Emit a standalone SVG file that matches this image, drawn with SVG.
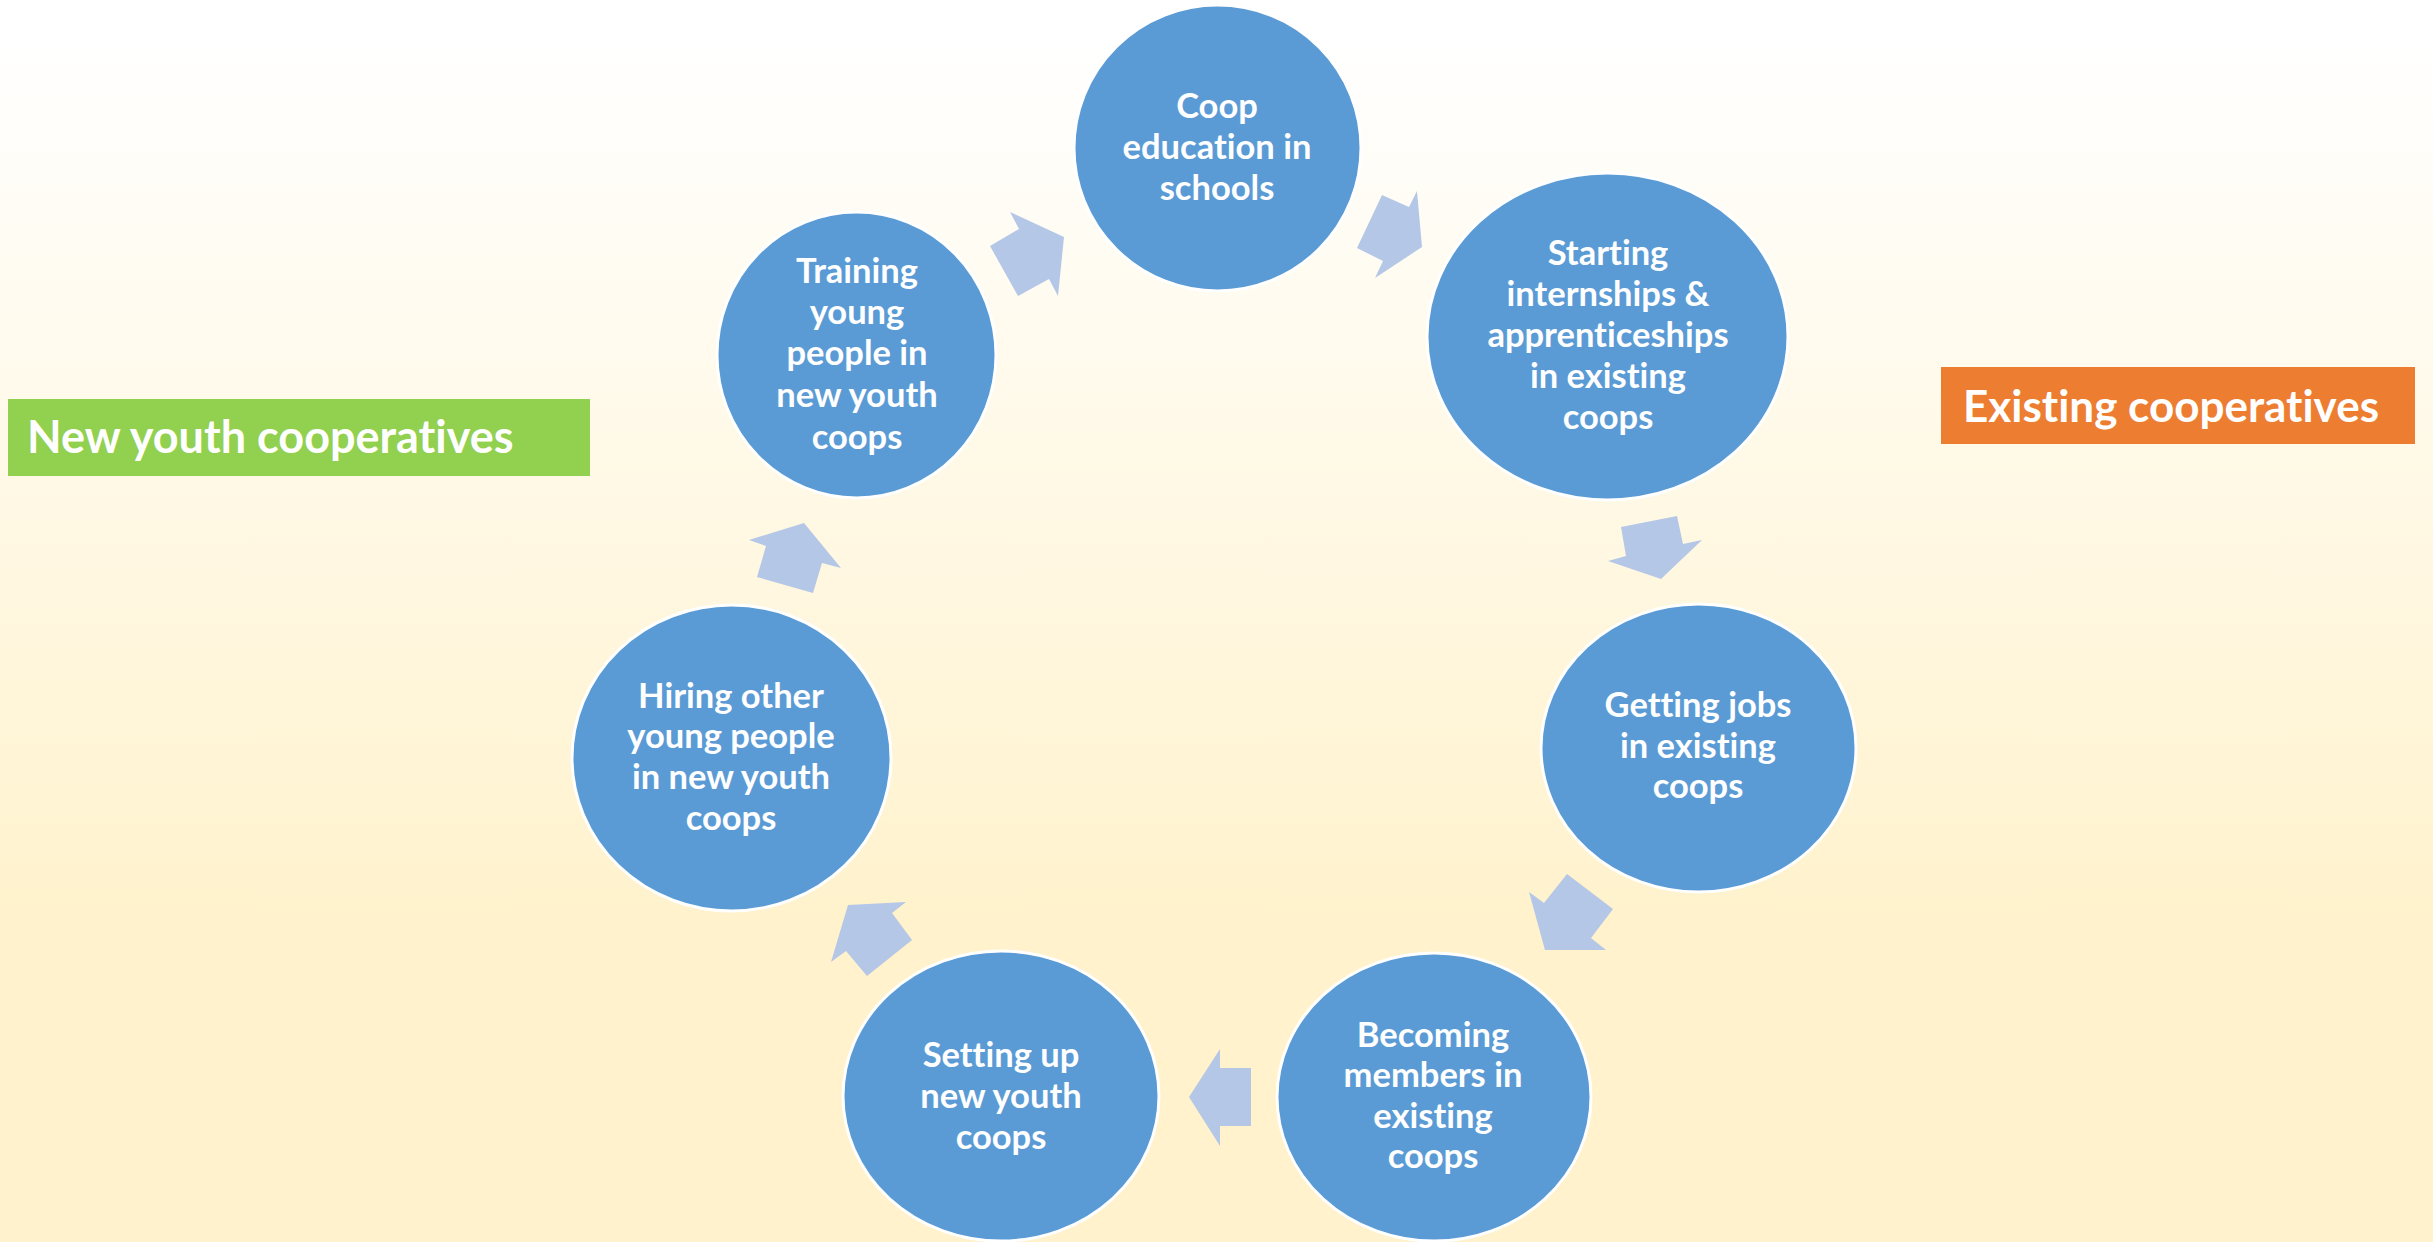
<svg xmlns="http://www.w3.org/2000/svg" width="2433" height="1242" viewBox="0 0 2433 1242">
<defs>
<linearGradient id="bg" x1="0" y1="0" x2="0" y2="1">
<stop offset="0.03" stop-color="#FFFFFF"/>
<stop offset="0.75" stop-color="#FFF2CC"/>
<stop offset="1" stop-color="#FFF2CC"/>
</linearGradient>
<style>
.node ellipse{fill:#5B9BD5;stroke:#FFFFFF;stroke-width:3}
.node text{fill:#FFFFFF;font-family:Lato,"Liberation Sans",sans-serif;font-weight:bold;font-size:34.5px;text-anchor:middle;font-variant-ligatures:none}
.arrow{fill:#B4C7E7}
.lt{fill:#FFFFFF;font-family:Lato,"Liberation Sans",sans-serif;font-weight:bold;font-variant-ligatures:none}
</style>
</defs>
<rect x="0" y="0" width="2433" height="1242" fill="url(#bg)"/>

<g id="label-new">
<rect x="8" y="399" width="582" height="77" fill="#92D050"/>
<text x="27" y="453" class="lt" font-size="45">New youth cooperatives</text>
</g>
<g id="label-existing">
<rect x="1941" y="367" width="474" height="77" fill="#ED7D31"/>
<text x="1963" y="422" class="lt" font-size="44">Existing cooperatives</text>
</g>

<g id="connectors">
<polygon class="arrow" points="1019,229 1010,212 1064,237 1058,296 1049,279 1018,296 990,246"/>
<polygon class="arrow" points="1382,195 1409,207 1417,191 1422,247 1375,278 1383,261 1357,248"/>
<polygon class="arrow" points="1621,527 1677,516 1683,544 1702,540 1661,579 1608,561 1626,556"/>
<polygon class="arrow" points="1567,874 1613,909 1591,938 1606,950 1545,950 1529,892 1544,903"/>
<polygon class="arrow" points="1251,1068 1220,1068 1220,1049 1189,1097 1220,1146 1220,1126 1251,1126"/>
<polygon class="arrow" points="848,905 906,902 892,913 912,940 867,976 846,951 831,962"/>
<polygon class="arrow" points="749,540 804,523 841,568 822,563 813,593 757,577 766,546"/>
</g>

<g id="node-coop-education" class="node">
<ellipse cx="1217.5" cy="148" rx="143.5" ry="143"/>
<text x="1217" y="118">Coop</text>
<text x="1217" y="159">education in</text>
<text x="1217" y="200">schools</text>
</g>
<g id="node-internships" class="node">
<ellipse cx="1607.5" cy="336.5" rx="180.5" ry="163.5"/>
<text x="1608" y="265">Starting</text>
<text x="1608" y="306">internships &amp;</text>
<text x="1608" y="347">apprenticeships</text>
<text x="1608" y="388">in existing</text>
<text x="1608" y="429">coops</text>
</g>
<g id="node-jobs" class="node">
<ellipse cx="1698.5" cy="748" rx="157.5" ry="144"/>
<text x="1698" y="717">Getting jobs</text>
<text x="1698" y="758">in existing</text>
<text x="1698" y="798">coops</text>
</g>
<g id="node-members" class="node">
<ellipse cx="1434" cy="1097" rx="157" ry="144"/>
<text x="1433" y="1047">Becoming</text>
<text x="1433" y="1087">members in</text>
<text x="1433" y="1128">existing</text>
<text x="1433" y="1168">coops</text>
</g>
<g id="node-setting-up" class="node">
<ellipse cx="1001" cy="1096" rx="158" ry="145"/>
<text x="1001" y="1067">Setting up</text>
<text x="1001" y="1108">new youth</text>
<text x="1001" y="1149">coops</text>
</g>
<g id="node-hiring" class="node">
<ellipse cx="731.5" cy="758" rx="159.5" ry="153"/>
<text x="731" y="708">Hiring other</text>
<text x="731" y="748">young people</text>
<text x="731" y="789">in new youth</text>
<text x="731" y="830">coops</text>
</g>
<g id="node-training" class="node">
<ellipse cx="856.5" cy="355" rx="139.5" ry="143"/>
<text x="857" y="283">Training</text>
<text x="857" y="324">young</text>
<text x="857" y="365">people in</text>
<text x="857" y="407">new youth</text>
<text x="857" y="449">coops</text>
</g>
</svg>
